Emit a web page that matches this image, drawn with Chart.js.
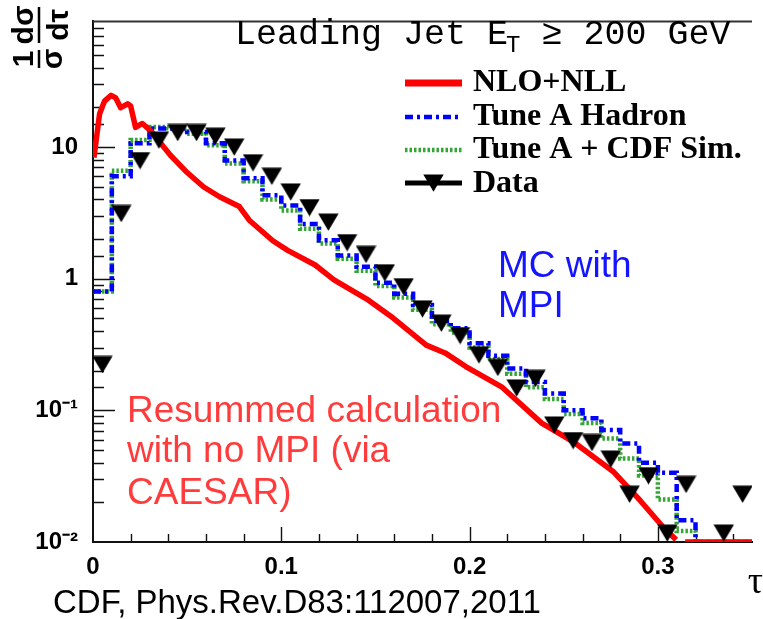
<!DOCTYPE html>
<html>
<head>
<meta charset="utf-8">
<script src="https://cdn.jsdelivr.net/npm/chart.js@4/dist/chart.umd.min.js"></script>
<style>
html,body{margin:0;padding:0;background:#fff;}
#wrap{width:763px;height:619px;position:relative;}
</style>
</head>
<body>
<div id="wrap"><canvas id="c" width="763" height="619"></canvas></div>
<script>
// ---------------- data ----------------
const binEdges = [0,0.01,0.02,0.03,0.04,0.05,0.06,0.07,0.08,0.09,0.10,0.11,0.12,0.13,0.14,0.15,0.16,0.17,0.18,0.19,0.20,0.21,0.22,0.23,0.24,0.25,0.26,0.27,0.28,0.29,0.30,0.31,0.32,0.33,0.34,0.35];

const hadronVals = [0.80,6.0,10.7,13.8,13.8,13.0,10.7,7.9,5.8,4.3,3.6,2.6,1.96,1.5,1.23,0.93,0.77,0.63,0.48,0.42,0.324,0.26,0.208,0.164,0.134,0.10,0.087,0.071,0.056,0.040,0.0336,0.0146,0,0,0];

const cdfSimVals = [0.80,6.6,11.3,14.2,13.9,12.6,10.3,7.5,5.5,4.0,3.3,2.4,1.85,1.42,1.15,0.88,0.72,0.58,0.45,0.39,0.30,0.245,0.19,0.15,0.122,0.094,0.08,0.061,0.043,0.032,0.021,0.0121,0,0,0];

const dataTau = [0.005,0.015,0.025,0.035,0.045,0.055,0.065,0.075,0.085,0.095,0.105,0.115,0.125,0.135,0.145,0.155,0.165,0.175,0.185,0.195,0.205,0.215,0.225,0.235,0.245,0.255,0.265,0.275,0.285,0.295,0.305,0.315,0.325,0.335,0.345];
const dataVals = [0.223,3.13,7.9,11.3,12.9,12.9,12.1,10.0,7.6,6.0,4.56,3.47,2.69,1.88,1.53,1.11,0.87,0.59,0.46,0.37,0.264,0.212,0.148,0.175,0.0774,0.059,0.057,0.0427,0.0231,0.0319,0.0117,0.0274,null,0.0117,0.0231];

const nloTau  = [0.0005,0.0017,0.0035,0.0061,0.0096,0.0121,0.0147,0.0184,0.0200,0.0226,0.0262,0.0304,0.0410,0.0500,0.0588,0.0672,0.0777,0.0830,0.0955,0.1034,0.1180,0.1280,0.1454,0.1596,0.1770,0.1870,0.1980,0.2170,0.2383,0.2556,0.2766,0.2908,0.3030,0.3097,0.3115,0.3145,0.3500];
const nloVals = [8.3,11.3,17.9,22.3,24.7,23.6,19.9,21.3,20.5,14.1,15.1,13.4,8.7,6.4,4.97,4.19,3.53,2.78,1.94,1.64,1.27,0.98,0.70,0.50,0.313,0.273,0.215,0.151,0.080,0.057,0.034,0.0205,0.0129,0.0104,null,0,0];

const seriesLabels = ['NLO+NLL','Tune A Hadron','Tune A + CDF Sim.','Data'];
const yTickLabels = {'1':'10','0':'1','-1':'10\u207B\u00B9','-2':'10\u207B\u00B2'};
const xTickLabels = {'0':'0','1':'0.1','2':'0.2','3':'0.3'};

const yAxisMin = 0.01, yAxisMax = 90;
const xAxisMin = 0, xAxisMax = 0.35;

// zero content is drawn on the frame floor, as in the original histogram plot
const floorOf = v => (v === 0 ? yAxisMin : v);

function histPoints(vals){
  const pts = vals.map((v,i)=>({x:binEdges[i], y:floorOf(v)}));
  pts.push({x:binEdges[vals.length], y:floorOf(vals[vals.length-1])});
  return pts;
}

const triangleImg = (() => {
  const c = document.createElement('canvas');
  c.width = 21; c.height = 18;
  const g = c.getContext('2d');
  g.fillStyle = '#000';
  g.beginPath(); g.moveTo(0.3,0.5); g.lineTo(20.7,0.5); g.lineTo(10.5,17.8); g.closePath(); g.fill();
  return c;
})();

const isDecade = v => Math.abs(Math.log10(v) - Math.round(Math.log10(v))) < 1e-6;
const isTenth = v => Math.abs(v*10 - Math.round(v*10)) < 1e-6;

const COLORS = {red:'#ff0000', blue:'#0000ff', green:'#33a533', black:'#000000'};

// ---------------- plugins ----------------
const frameTicks = {
  id:'frameTicks',
  beforeDatasetsDraw(chart){
    const {ctx, chartArea:a, scales:{x,y}} = chart;
    ctx.save();
    ctx.strokeStyle = '#333'; ctx.lineWidth = 2;
    ctx.beginPath(); ctx.moveTo(a.left, a.top); ctx.lineTo(a.right, a.top); ctx.stroke();
    ctx.strokeStyle = '#111'; ctx.lineWidth = 1.4;
    ctx.beginPath();
    y.ticks.forEach(t=>{
      const p = Math.round(y.getPixelForValue(t.value)) + 0.5;
      if (p < a.top + 2 || p > a.bottom - 2) return;
      const L = isDecade(t.value) ? 22 : 11;
      ctx.moveTo(a.left, p); ctx.lineTo(a.left + L, p);
    });
    x.ticks.forEach(t=>{
      const p = Math.round(x.getPixelForValue(t.value)) + 0.5;
      if (p < a.left + 2) return;
      const L = isTenth(t.value) ? 15 : 8;
      ctx.moveTo(p, a.bottom); ctx.lineTo(p, a.bottom - L);
    });
    ctx.stroke();
    ctx.restore();
  }
};

const annotations = {
  id:'annotations',
  afterDraw(chart){
    const {ctx} = chart;
    const ds = chart.data.datasets;
    ctx.save();

    // header
    ctx.fillStyle = '#000';
    ctx.textBaseline = 'alphabetic';
    ctx.textAlign = 'left';
    ctx.font = "35px 'Liberation Mono', 'DejaVu Sans Mono', monospace";
    let hx = 235;
    ctx.fillText('Leading Jet E', hx, 44);
    hx += ctx.measureText('Leading Jet E').width;
    ctx.font = "24px 'Liberation Mono', 'DejaVu Sans Mono', monospace";
    ctx.fillText('T', hx - 2, 52);
    hx += ctx.measureText('T').width - 2;
    ctx.font = "35px 'Liberation Mono', 'DejaVu Sans Mono', monospace";
    ctx.fillText(' \u2265 200 GeV', hx, 44);

    // legend
    const rows = [{i:0, y:83, b:91},{i:1, y:117, b:125},{i:2, y:150, b:158},{i:3, y:183, b:192}];
    const lx0 = 405, lx1 = 462, tx = 473;
    rows.forEach(r=>{
      const d = ds[r.i];
      ctx.save();
      if (r.i === 3) {
        ctx.strokeStyle = '#000'; ctx.lineWidth = 5;
        ctx.beginPath(); ctx.moveTo(lx0, r.y); ctx.lineTo(lx1, r.y); ctx.stroke();
        ctx.drawImage(triangleImg, (lx0+lx1)/2 - triangleImg.width/2, r.y - triangleImg.height/2);
      } else {
        ctx.strokeStyle = d.borderColor;
        ctx.lineWidth = r.i === 0 ? 7 : d.borderWidth;
        ctx.setLineDash(d.borderDash || []);
        ctx.beginPath(); ctx.moveTo(lx0, r.y); ctx.lineTo(lx1, r.y); ctx.stroke();
      }
      ctx.restore();
      ctx.fillStyle = '#000';
      ctx.font = "bold 32px 'Liberation Serif', 'Times New Roman', serif";
      ctx.fillText(seriesLabels[r.i], tx, r.b);
    });

    // annotations
    ctx.font = "37px 'Liberation Sans', Arial, sans-serif";
    ctx.fillStyle = '#1414ff';
    ctx.fillText('MC with', 498, 277);
    ctx.fillText('MPI', 498, 317);
    ctx.fillStyle = '#ff3b3b';
    ctx.fillText('Resummed calculation', 127, 422);
    ctx.fillText('with no MPI (via', 127, 462);
    ctx.fillText('CAESAR)', 127, 504);

    // caption
    ctx.fillStyle = '#000';
    ctx.font = "33px 'Liberation Sans', Arial, sans-serif";
    ctx.fillText('CDF, Phys.Rev.D83:112007,2011', 53, 613);

    // x-axis title
    ctx.font = "38px 'Liberation Serif', 'Times New Roman', serif";
    ctx.textAlign = 'right';
    ctx.fillText('\u03C4', 763, 593);

    // y-axis title: 1/sigma dsigma/dtau, rotated
    ctx.translate(39, 72);
    ctx.rotate(-Math.PI/2);
    ctx.font = "bold 30px 'Liberation Sans', Arial, sans-serif";
    ctx.textAlign = 'center';
    ctx.fillStyle = '#000';
    ctx.textBaseline = 'alphabetic';
    ctx.fillText('1', 13, -6);
    ctx.fillText('d\u03C3', 47, -6);
    ctx.fillText('\u03C3', 13, 23);
    ctx.fillText('d\u03C4', 47, 29);
    ctx.strokeStyle = '#000'; ctx.lineWidth = 2.5;
    ctx.beginPath();
    ctx.moveTo(4, 0); ctx.lineTo(22, 0);
    ctx.moveTo(29, 0); ctx.lineTo(65, 0);
    ctx.stroke();

    ctx.restore();
  }
};

// ---------------- chart ----------------
const tickFont = {family:"'Liberation Sans', Arial, sans-serif", size:24, weight:'bold'};

new Chart(document.getElementById('c'), {
  type:'line',
  data:{
    datasets:[
      {label:seriesLabels[0], data:nloTau.map((t,i)=>({x:t, y:nloVals[i]===null?null:floorOf(nloVals[i])})),
       borderColor:COLORS.red, borderWidth:5.5, pointRadius:0, fill:false, tension:0, spanGaps:false,
       borderJoinStyle:'round', order:1},
      {label:seriesLabels[1], data:histPoints(hadronVals), stepped:'before',
       borderColor:COLORS.blue, borderWidth:4.5, borderDash:[8,4,3,4], pointRadius:0, fill:false, order:2},
      {label:seriesLabels[2], data:histPoints(cdfSimVals), stepped:'before',
       borderColor:COLORS.green, borderWidth:4.5, borderDash:[2.5,2], pointRadius:0, fill:false, order:3},
      {label:seriesLabels[3], data:dataTau.map((t,i)=>({x:t, y:dataVals[i]})),
       showLine:false, pointStyle:triangleImg, pointRadius:10, pointHoverRadius:10, order:0}
    ]
  },
  options:{
    responsive:false, animation:false, devicePixelRatio:1,
    layout:{padding:{left:0, top:8, right:3, bottom:0}},
    plugins:{legend:{display:false}, tooltip:{enabled:false}, title:{display:false}},
    events:[],
    scales:{
      x:{type:'linear', min:xAxisMin, max:xAxisMax,
         grid:{display:false},
         border:{display:true, color:'#111', width:2},
         ticks:{stepSize:0.02, includeBounds:false, autoSkip:false, maxRotation:0, padding:3,
                color:'#000', font:tickFont,
                callback:v=> isTenth(v) ? (xTickLabels[String(Math.round(v*10))] ?? '') : ''},
         afterFit:s=>{ s.height = 77; }},
      y:{type:'logarithmic', min:yAxisMin, max:yAxisMax,
         grid:{display:false},
         border:{display:true, color:'#111', width:2},
         ticks:{autoSkip:false, padding:7, color:'#000', font:tickFont,
                callback:v=> isDecade(v) ? (yTickLabels[String(Math.round(Math.log10(v)))] ?? '') : ''},
         afterFit:s=>{ s.width = 93; }}
    }
  },
  plugins:[frameTicks, annotations]
});
</script>
</body>
</html>
